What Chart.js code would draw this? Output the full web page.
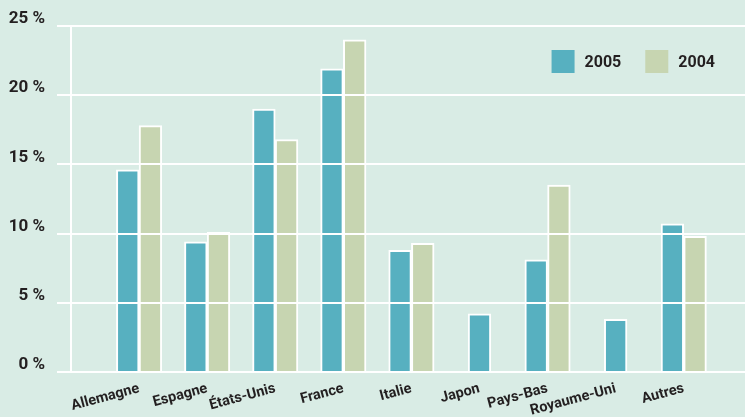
<!DOCTYPE html>
<html><head><meta charset="utf-8">
<script src="https://cdn.jsdelivr.net/npm/chart.js@4/dist/chart.umd.min.js"></script>
<style>html,body{margin:0;padding:0;background:#d9ece5;} #wrap{width:745px;height:417px;position:relative;}</style>
</head><body><div id="wrap"><canvas id="c" width="745" height="417"></canvas></div>
<script>
const categories = ['Allemagne','Espagne','États-Unis','France','Italie','Japon','Pays-Bas','Royaume-Uni','Autres'];
const series2005 = [14.6, 9.4, 19.0, 21.9, 8.8, 4.2, 8.1, 3.8, 10.7];
const series2004 = [17.8, 10.1, 16.8, 24.0, 9.3, null, 13.5, null, 9.8];
const yTickValues = [0, 5, 10, 15, 20, 25];
const seriesNames = ['2005', '2004'];
const seriesColors = ['#57b0c0', '#c7d5b1'];

const TEXT = '#231f20';
const FONT = 'Roboto, "DejaVu Sans", sans-serif';

const toPoints = arr => arr.map((v, i) => ({ x: i, y: v }));

const bgPlugin = {
  id: 'bg',
  beforeDraw(chart) {
    const { ctx, width, height } = chart;
    ctx.save();
    ctx.fillStyle = '#d9ece5';
    ctx.fillRect(0, 0, width, height);
    ctx.restore();
  }
};

const cornerLegend = {
  id: 'cornerLegend',
  afterDraw(chart) {
    const { ctx, chartArea } = chart;
    const box = 23, gap = 10, itemGap = 24;
    ctx.save();
    ctx.font = 'bold 16px ' + FONT;
    const items = chart.data.datasets.map(ds => ({ label: ds.label, color: ds.backgroundColor, w: box + gap + ctx.measureText(ds.label).width }));
    const total = items.reduce((s, it) => s + it.w, 0) + itemGap * (items.length - 1);
    let x = chartArea.right - 30 - total;
    const top = chartArea.top + 24;
    ctx.textBaseline = 'middle';
    ctx.textAlign = 'left';
    items.forEach(it => {
      ctx.fillStyle = it.color;
      ctx.fillRect(x, top, box, box);
      ctx.fillStyle = TEXT;
      ctx.fillText(it.label, x + box + gap, top + box / 2 + 1);
      x += it.w + itemGap;
    });
    ctx.restore();
  }
};

new Chart(document.getElementById('c'), {
  type: 'bar',
  data: {
    datasets: [
      { label: seriesNames[0], data: toPoints(series2005), backgroundColor: seriesColors[0] },
      { label: seriesNames[1], data: toPoints(series2004), backgroundColor: seriesColors[1] }
    ]
  },
  options: {
    responsive: false,
    animation: false,
    devicePixelRatio: 1,
    layout: { padding: { top: 26, right: 0, bottom: 0, left: 0 } },
    datasets: {
      bar: {
        borderColor: '#ffffff',
        borderWidth: 2,
        barThickness: 22.7,
        skipNull: true
      }
    },
    plugins: { legend: { display: false }, tooltip: { enabled: false } },
    scales: {
      x: {
        type: 'linear',
        offset: false,
        min: -1,
        max: 8.9,
        afterBuildTicks: s => { s.ticks = categories.map((c, i) => ({ value: i })); },
        afterFit: s => { s.height = 45; },
        grid: { display: false, drawTicks: false, offset: false },
        border: { display: false },
        ticks: {
          autoSkip: false,
          minRotation: 15,
          maxRotation: 15,
          padding: 8,
          color: TEXT,
          font: { family: FONT, size: 14.5, weight: 'bold' },
          callback: v => categories[v]
        }
      },
      y: {
        min: 0,
        max: 25,
        afterBuildTicks: s => { s.ticks = yTickValues.map(v => ({ value: v })); },
        afterFit: s => { s.width = 71; },
        grid: { color: '#ffffff', lineWidth: 2, tickLength: 14, tickColor: '#ffffff', z: 1 },
        border: { color: '#ffffff', width: 2, z: 1 },
        ticks: {
          padding: 12,
          labelOffset: -7,
          color: TEXT,
          font: { family: FONT, size: 17, weight: 'bold' },
          callback: v => v + ' %'
        }
      }
    }
  },
  plugins: [bgPlugin, cornerLegend]
});
</script>
</body></html>
